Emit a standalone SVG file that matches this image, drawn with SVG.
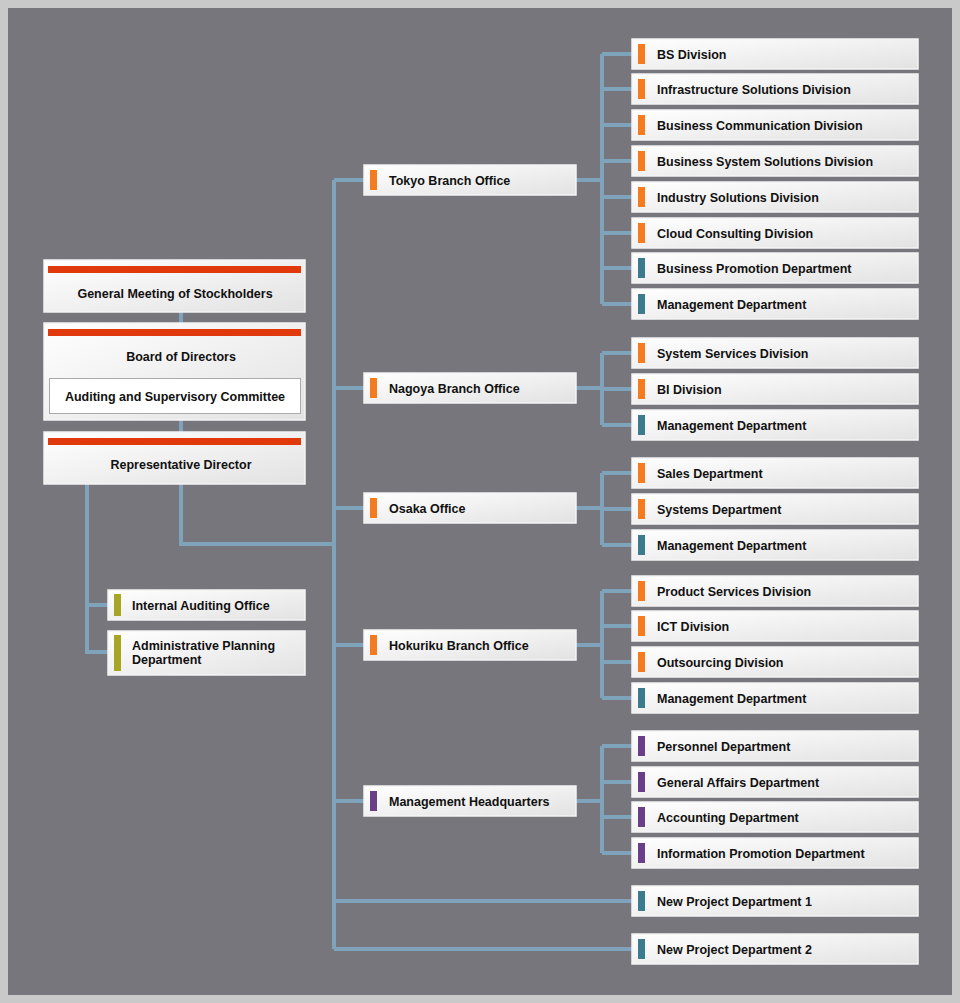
<svg xmlns="http://www.w3.org/2000/svg" width="960" height="1003" viewBox="0 0 960 1003">
<defs>
<linearGradient id="g" x1="0" y1="0" x2="1" y2="1"><stop offset="0" stop-color="#ffffff"/><stop offset="1" stop-color="#e2e2e2"/></linearGradient>
<style>
.b{fill:url(#g);stroke:#f4f4f4;stroke-width:1.5}
.t{font-family:"Liberation Sans",Arial,sans-serif;font-weight:bold;font-size:12.5px;fill:#111}
.c{text-anchor:middle}
.o{fill:#f47b20}.s{fill:#3c7a8e}.p{fill:#6b3f88}.y{fill:#a6a624}.r{fill:#e03a0c}
#conn path{fill:none;stroke:#7fa3bb;stroke-width:4}
</style>
</defs>
<rect width="960" height="1003" fill="#c9c9c9"/>
<rect x="8" y="8" width="944" height="987" fill="#77767c"/>
<g id="conn">
<path d="M181 312V323M181 420V432M181 484V544H334M334 180V949M334 180H364M334 388H364M334 508H364M334 645H364M334 801H364M334 901H632M334 949H632"/>
<path d="M87 484V652H108M87 605H108"/>
<path d="M576 180H602M602 54V304M602 54H632M602 89H632M602 125H632M602 161H632M602 197H632M602 233H632M602 268H632M602 304H632"/>
<path d="M576 388H602M602 353V425M602 353H632M602 389H632M602 425H632"/>
<path d="M576 508H602M602 473V545M602 473H632M602 509H632M602 545H632"/>
<path d="M576 645H602M602 591V698M602 591H632M602 626H632M602 662H632M602 698H632"/>
<path d="M576 801H602M602 746V853M602 746H632M602 782H632M602 817H632M602 853H632"/>
</g>
<g id="gm"><rect class="b" x="44" y="260" width="261" height="52"/><rect class="r" x="48" y="266" width="253" height="7"/><text class="t c" x="175" y="298">General Meeting of Stockholders</text></g>
<g id="board"><rect class="b" x="44" y="323" width="261" height="97"/><rect class="r" x="48" y="329" width="253" height="7"/><text class="t c" x="181" y="361">Board of Directors</text>
<rect x="49.5" y="378.5" width="251" height="35" fill="#fff" stroke="#aaa"/><text class="t c" x="175" y="401">Auditing and Supervisory Committee</text></g>
<g id="rep"><rect class="b" x="44" y="432" width="261" height="52"/><rect class="r" x="48" y="438" width="253" height="7"/><text class="t c" x="181" y="469">Representative Director</text></g>
<g id="iao"><rect class="b" x="108" y="590" width="197" height="30"/><rect class="y" x="114" y="594" width="7" height="22"/><text class="t" x="132" y="610">Internal Auditing Office</text></g>
<g id="apd"><rect class="b" x="108" y="631" width="197" height="44"/><rect class="y" x="114" y="635" width="7" height="36"/><text class="t" x="132" y="650">Administrative Planning</text><text class="t" x="132" y="664">Department</text></g>
<g id="tokyo"><rect class="b" x="364" y="165" width="212" height="30"/><rect class="o" x="370" y="170" width="7" height="20"/><text class="t" x="389" y="185">Tokyo Branch Office</text></g>
<g id="nagoya"><rect class="b" x="364" y="373" width="212" height="30"/><rect class="o" x="370" y="378" width="7" height="20"/><text class="t" x="389" y="393">Nagoya Branch Office</text></g>
<g id="osaka"><rect class="b" x="364" y="493" width="212" height="30"/><rect class="o" x="370" y="498" width="7" height="20"/><text class="t" x="389" y="513">Osaka Office</text></g>
<g id="hokuriku"><rect class="b" x="364" y="630" width="212" height="30"/><rect class="o" x="370" y="635" width="7" height="20"/><text class="t" x="389" y="650">Hokuriku Branch Office</text></g>
<g id="mhq"><rect class="b" x="364" y="786" width="212" height="30"/><rect class="p" x="370" y="791" width="7" height="20"/><text class="t" x="389" y="806">Management Headquarters</text></g>
<g id="r1"><rect class="b" x="632" y="39" width="286" height="30"/><rect class="o" x="638" y="44" width="7" height="20"/><text class="t" x="657" y="59">BS Division</text></g>
<g id="r2"><rect class="b" x="632" y="74" width="286" height="30"/><rect class="o" x="638" y="79" width="7" height="20"/><text class="t" x="657" y="94">Infrastructure Solutions Division</text></g>
<g id="r3"><rect class="b" x="632" y="110" width="286" height="30"/><rect class="o" x="638" y="115" width="7" height="20"/><text class="t" x="657" y="130">Business Communication Division</text></g>
<g id="r4"><rect class="b" x="632" y="146" width="286" height="30"/><rect class="o" x="638" y="151" width="7" height="20"/><text class="t" x="657" y="166">Business System Solutions Division</text></g>
<g id="r5"><rect class="b" x="632" y="182" width="286" height="30"/><rect class="o" x="638" y="187" width="7" height="20"/><text class="t" x="657" y="202">Industry Solutions Division</text></g>
<g id="r6"><rect class="b" x="632" y="218" width="286" height="30"/><rect class="o" x="638" y="223" width="7" height="20"/><text class="t" x="657" y="238">Cloud Consulting Division</text></g>
<g id="r7"><rect class="b" x="632" y="253" width="286" height="30"/><rect class="s" x="638" y="258" width="7" height="20"/><text class="t" x="657" y="273">Business Promotion Department</text></g>
<g id="r8"><rect class="b" x="632" y="289" width="286" height="30"/><rect class="s" x="638" y="294" width="7" height="20"/><text class="t" x="657" y="309">Management Department</text></g>
<g id="r9"><rect class="b" x="632" y="338" width="286" height="30"/><rect class="o" x="638" y="343" width="7" height="20"/><text class="t" x="657" y="358">System Services Division</text></g>
<g id="r10"><rect class="b" x="632" y="374" width="286" height="30"/><rect class="o" x="638" y="379" width="7" height="20"/><text class="t" x="657" y="394">BI Division</text></g>
<g id="r11"><rect class="b" x="632" y="410" width="286" height="30"/><rect class="s" x="638" y="415" width="7" height="20"/><text class="t" x="657" y="430">Management Department</text></g>
<g id="r12"><rect class="b" x="632" y="458" width="286" height="30"/><rect class="o" x="638" y="463" width="7" height="20"/><text class="t" x="657" y="478">Sales Department</text></g>
<g id="r13"><rect class="b" x="632" y="494" width="286" height="30"/><rect class="o" x="638" y="499" width="7" height="20"/><text class="t" x="657" y="514">Systems Department</text></g>
<g id="r14"><rect class="b" x="632" y="530" width="286" height="30"/><rect class="s" x="638" y="535" width="7" height="20"/><text class="t" x="657" y="550">Management Department</text></g>
<g id="r15"><rect class="b" x="632" y="576" width="286" height="30"/><rect class="o" x="638" y="581" width="7" height="20"/><text class="t" x="657" y="596">Product Services Division</text></g>
<g id="r16"><rect class="b" x="632" y="611" width="286" height="30"/><rect class="o" x="638" y="616" width="7" height="20"/><text class="t" x="657" y="631">ICT Division</text></g>
<g id="r17"><rect class="b" x="632" y="647" width="286" height="30"/><rect class="o" x="638" y="652" width="7" height="20"/><text class="t" x="657" y="667">Outsourcing Division</text></g>
<g id="r18"><rect class="b" x="632" y="683" width="286" height="30"/><rect class="s" x="638" y="688" width="7" height="20"/><text class="t" x="657" y="703">Management Department</text></g>
<g id="r19"><rect class="b" x="632" y="731" width="286" height="30"/><rect class="p" x="638" y="736" width="7" height="20"/><text class="t" x="657" y="751">Personnel Department</text></g>
<g id="r20"><rect class="b" x="632" y="767" width="286" height="30"/><rect class="p" x="638" y="772" width="7" height="20"/><text class="t" x="657" y="787">General Affairs Department</text></g>
<g id="r21"><rect class="b" x="632" y="802" width="286" height="30"/><rect class="p" x="638" y="807" width="7" height="20"/><text class="t" x="657" y="822">Accounting Department</text></g>
<g id="r22"><rect class="b" x="632" y="838" width="286" height="30"/><rect class="p" x="638" y="843" width="7" height="20"/><text class="t" x="657" y="858">Information Promotion Department</text></g>
<g id="r23"><rect class="b" x="632" y="886" width="286" height="30"/><rect class="s" x="638" y="891" width="7" height="20"/><text class="t" x="657" y="906">New Project Department 1</text></g>
<g id="r24"><rect class="b" x="632" y="934" width="286" height="30"/><rect class="s" x="638" y="939" width="7" height="20"/><text class="t" x="657" y="954">New Project Department 2</text></g>
</svg>
